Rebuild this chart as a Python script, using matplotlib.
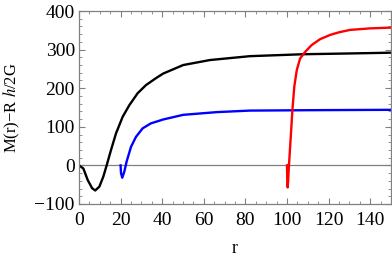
import matplotlib
matplotlib.use("Agg")
import matplotlib.pyplot as plt
from matplotlib.ticker import MultipleLocator

plt.rcParams["font.family"] = ["Liberation Serif", "DejaVu Serif"]
plt.rcParams["mathtext.fontset"] = "stix"

# values
r_black = [0, 2.1, 4.2, 6.3, 7.8, 9.8, 11.7, 13.3, 15.4, 17.8, 21, 24.2, 28.2,
           32.2, 37, 40.5, 50.1, 63, 82.2, 107.8, 130, 150]
m_black = [0, -8, -38, -59, -65, -55, -29, 0, 40, 83, 126, 156, 187,
           208, 226, 238, 260, 273, 283, 288, 290, 292]

r_blue = [20, 20.2, 20.8, 21.8, 22.9, 25, 27.4, 30.6, 34.6, 37, 40.5, 50.1,
          66.2, 82.2, 110, 150]
m_blue = [0, -20, -32, -16, 10, 48, 74, 96, 109, 113, 119, 131,
          138, 142, 143, 144]

r_red = [100, 100.1, 100.3, 100.55, 100.8, 101.1, 101.8, 102.6, 103.5, 104.7,
         106.3, 108.7, 111.9, 115.9, 120.7, 125.1, 130.3, 139.9, 150]
m_red = [0, -35, -57, -40, -12, 14, 74, 144, 204, 247,
         277, 294, 312, 327, 338, 345, 351, 355, 357]

frame_grey = "#808080"

fig = plt.figure(figsize=(3.92, 2.62), dpi=100)
ax = fig.add_axes([0.2015, 0.2214, 0.796, 0.7366])

ax.axhline(0, color=frame_grey, lw=0.9, zorder=1)
ax.plot(r_black, m_black, color="black", lw=1.7)
ax.plot(r_blue, m_blue, color="blue", lw=1.7)
ax.plot(r_red, m_red, color="red", lw=1.7)

ax.set_xlim(0, 150)
ax.set_ylim(-100, 400)
ax.xaxis.set_major_locator(MultipleLocator(20))
ax.xaxis.set_minor_locator(MultipleLocator(5))
ax.yaxis.set_major_locator(MultipleLocator(100))
ax.yaxis.set_minor_locator(MultipleLocator(20))

for s in ax.spines.values():
    s.set_color(frame_grey)
    s.set_linewidth(0.9)
ax.tick_params(which="both", direction="in", top=True, right=True,
               color=frame_grey, labelsize=14)
ax.tick_params(axis="x", pad=6)
ax.tick_params(axis="y", pad=3)
ax.tick_params(which="major", length=4, width=0.8)
ax.tick_params(which="minor", length=2, width=0.6)

ax.set_xlabel("r", fontsize=13, labelpad=8)
ax.set_ylabel("M(r)\u2212R $h$/2G", fontsize=12, labelpad=9)

fig.savefig("out.png", dpi=100)
